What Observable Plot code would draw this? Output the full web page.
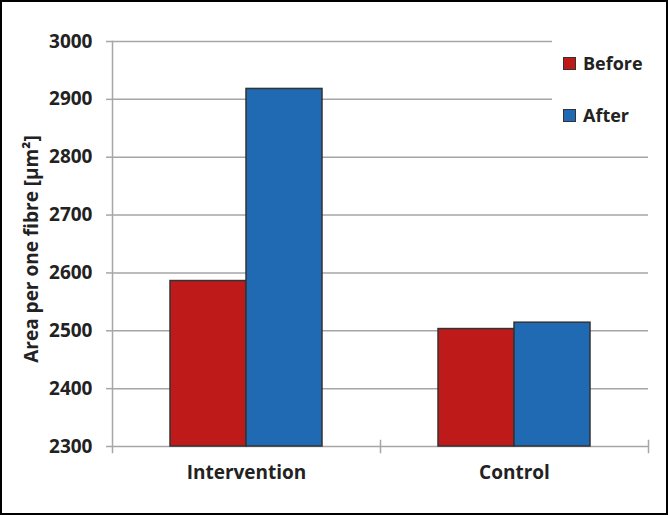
<!DOCTYPE html>
<html>
<head>
<meta charset="utf-8">
<script src="https://cdn.jsdelivr.net/npm/d3@7"></script>
<script src="https://cdn.jsdelivr.net/npm/@observablehq/plot@0.6"></script>
<style>
  html, body { margin: 0; padding: 0; background: #fff; }
  #wrap { position: relative; width: 668px; height: 515px; font-family: "Open Sans", sans-serif; }
  #border { position: absolute; left: 0; top: 0; width: 668px; height: 515px; box-sizing: border-box; border: 2px solid #000; pointer-events: none; }
  #legend { position: absolute; left: 552px; top: 35px; width: 98px; height: 100px; background: #fff; }
  .row { position: absolute; left: 11px; height: 20px; display: flex; align-items: center; gap: 7px; font-weight: bold; font-size: 18px; color: #222; }
  .sw { width: 11px; height: 11px; border: 1px solid #333; }
</style>
</head>
<body>
<div id="wrap"></div>
<script>
const categories = ["Intervention", "Control"];
const series = ["Before", "After"];
const beforeValues = [2586, 2503];
const afterValues = [2918, 2514];
const yTicks = [2300, 2400, 2500, 2600, 2700, 2800, 2900, 3000];
const yLabel = "Area per one fibre [µm²]";
const colors = ["#be1a1a", "#1f6ab3"];

const data = [];
categories.forEach((c, i) => {
  data.push({category: c, series: "Before", value: beforeValues[i]});
  data.push({category: c, series: "After", value: afterValues[i]});
});

const yMin = yTicks[0];
const gridColor = "#a6a6a6";

const plot = Plot.plot({
  width: 668,
  height: 515,
  marginLeft: 111,
  marginRight: 20,
  marginTop: 41,
  marginBottom: 69,
  style: {fontFamily: "Open Sans", fontWeight: "bold", fontSize: "19px", color: "#222", background: "transparent"},
  fx: {domain: categories, padding: 0, label: null},
  x: {domain: series, paddingInner: 0, paddingOuter: 0.747, axis: null},
  y: {domain: [yTicks[0], yTicks[yTicks.length - 1]], ticks: yTicks, label: null},
  color: {domain: series, range: colors},
  marks: [
    Plot.ruleY(yTicks, {stroke: gridColor, strokeWidth: 1.5}),
    Plot.frame({anchor: "left", facetAnchor: "left", stroke: gridColor, strokeWidth: 1.5, insetBottom: -6}),
    Plot.frame({anchor: "right", stroke: gridColor, strokeWidth: 1.5, insetTop: 399, insetBottom: -6}),
    Plot.barY(data, {fx: "category", x: "series", y1: yMin, y2: "value", fill: "series", stroke: "#333", strokeWidth: 1.5}),
    Plot.axisY({ticks: yTicks, tickSize: 6, tickPadding: 14, stroke: gridColor, strokeWidth: 1.5, fill: "#222", label: null, tickFormat: d => String(d)}),
    Plot.axisFx({anchor: "bottom", tickSize: 0, tickPadding: 19, fill: "#222", label: null}),
    Plot.text([yLabel], {frameAnchor: "left", facetAnchor: "left", textAnchor: "middle", rotate: -90, dx: -81, dy: 5, fontSize: 19, fontWeight: "bold", fill: "#222"})
  ]
});

const wrap = document.getElementById("wrap");
wrap.appendChild(plot);

const legend = document.createElement("div");
legend.id = "legend";
series.forEach((s, i) => {
  const row = document.createElement("div");
  row.className = "row";
  row.style.top = (i === 0 ? 18 : 70) + "px";
  const sw = document.createElement("div");
  sw.className = "sw";
  sw.style.background = colors[i];
  const t = document.createElement("span");
  t.textContent = s;
  row.appendChild(sw);
  row.appendChild(t);
  legend.appendChild(row);
});
wrap.appendChild(legend);

const border = document.createElement("div");
border.id = "border";
wrap.appendChild(border);
</script>
</body>
</html>
